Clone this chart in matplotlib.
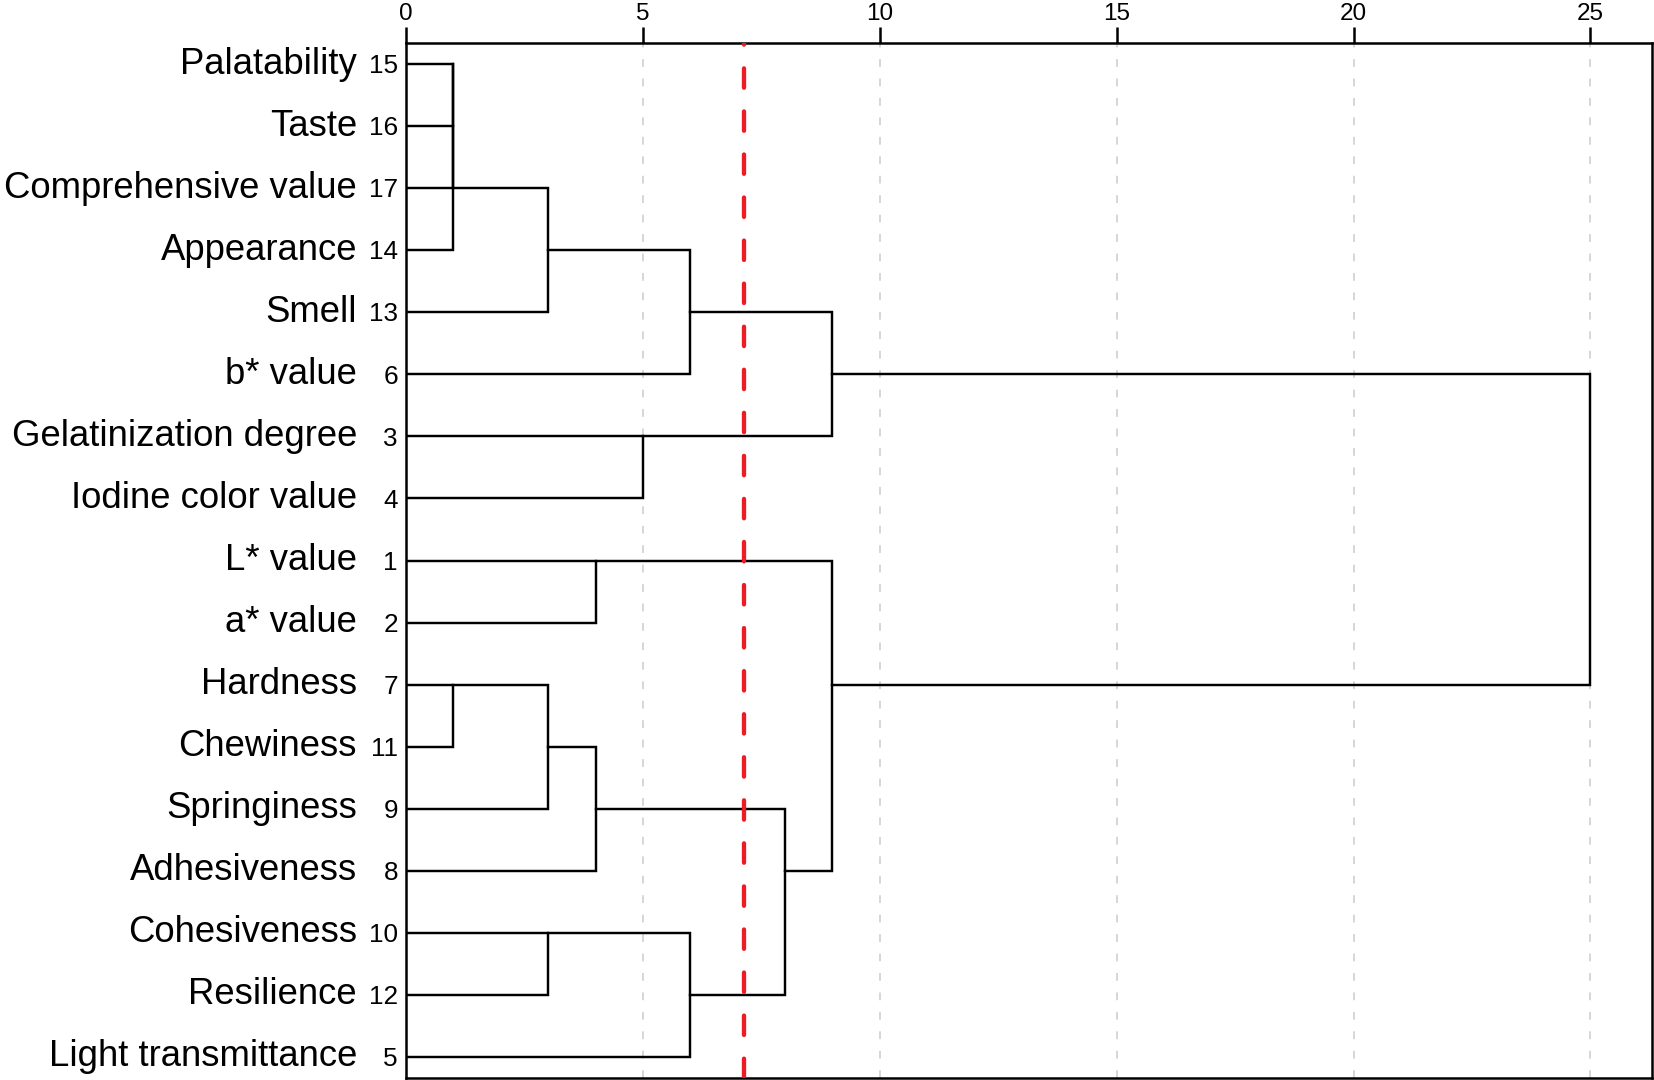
import numpy as np
import matplotlib
matplotlib.use('Agg')
import matplotlib.pyplot as plt

plt.rcParams['font.family'] = ['Liberation Sans', 'DejaVu Sans']

# leaves in display order (top to bottom)
labels = ['Palatability', 'Taste', 'Comprehensive value', 'Appearance', 'Smell',
          'b* value', 'Gelatinization degree', 'Iodine color value', 'L* value',
          'a* value', 'Hardness', 'Chewiness', 'Springiness', 'Adhesiveness',
          'Cohesiveness', 'Resilience', 'Light transmittance']
numbers = [15, 16, 17, 14, 13, 6, 3, 4, 1, 2, 7, 11, 9, 8, 10, 12, 5]

# merges: (cluster a, cluster b, rescaled distance); new clusters numbered from 17
merges = [(0, 1, 1), (17, 2, 1), (18, 3, 1), (19, 4, 3), (20, 5, 6),
          (6, 7, 5), (21, 22, 9), (8, 9, 4), (10, 11, 1), (25, 12, 3),
          (26, 13, 4), (14, 15, 3), (28, 16, 6), (27, 29, 8), (24, 30, 9),
          (23, 31, 25)]

cut = 7.13
xticks = [0, 5, 10, 15, 20, 25]

fig = plt.figure(figsize=(16.54, 10.8), dpi=100)
ax = fig.add_axes([406/1654, 2/1080, 1246/1654, 1035/1080])

n = len(labels)
ypos = {i: i for i in range(n)}
height = {i: 0 for i in range(n)}
for k, (a, b, d) in enumerate(merges):
    ya, yb = ypos[a], ypos[b]
    ax.plot([height[a], d, d, height[b]], [ya, ya, yb, yb],
            color='black', lw=1.75, zorder=3, solid_joinstyle='miter')
    ypos[n + k] = (ya + yb) // 2
    height[n + k] = d

ax.axvline(cut, color='#ec1c24', lw=3.1, zorder=5,
           linestyle=(0, (4.5, 5.5)), dash_capstyle='round')

for i, (lab, num) in enumerate(zip(labels, numbers)):
    ax.annotate(lab, xy=(0, i), xytext=(-35.3, -6.8), textcoords='offset points',
                ha='right', va='baseline', fontsize=26.3)
    ax.annotate(str(num), xy=(0, i), xytext=(-5.8, -6.6), textcoords='offset points',
                ha='right', va='baseline', fontsize=18.8)

ax.set_xlim(0, 26.3)
ax.set_ylim(16.34, -0.34)
ax.set_xticks(xticks)
ax.set_yticks([])
ax.xaxis.tick_top()
ax.tick_params(axis='x', length=11.5, width=1.8, pad=1.3, labelsize=17.5)
ax.grid(axis='x', color='#d6d6d6', lw=1.4, linestyle=(0, (4, 6)), zorder=0)
ax.set_axisbelow(True)
for s in ax.spines.values():
    s.set_linewidth(1.8)

fig.savefig('out.png', dpi=100)
